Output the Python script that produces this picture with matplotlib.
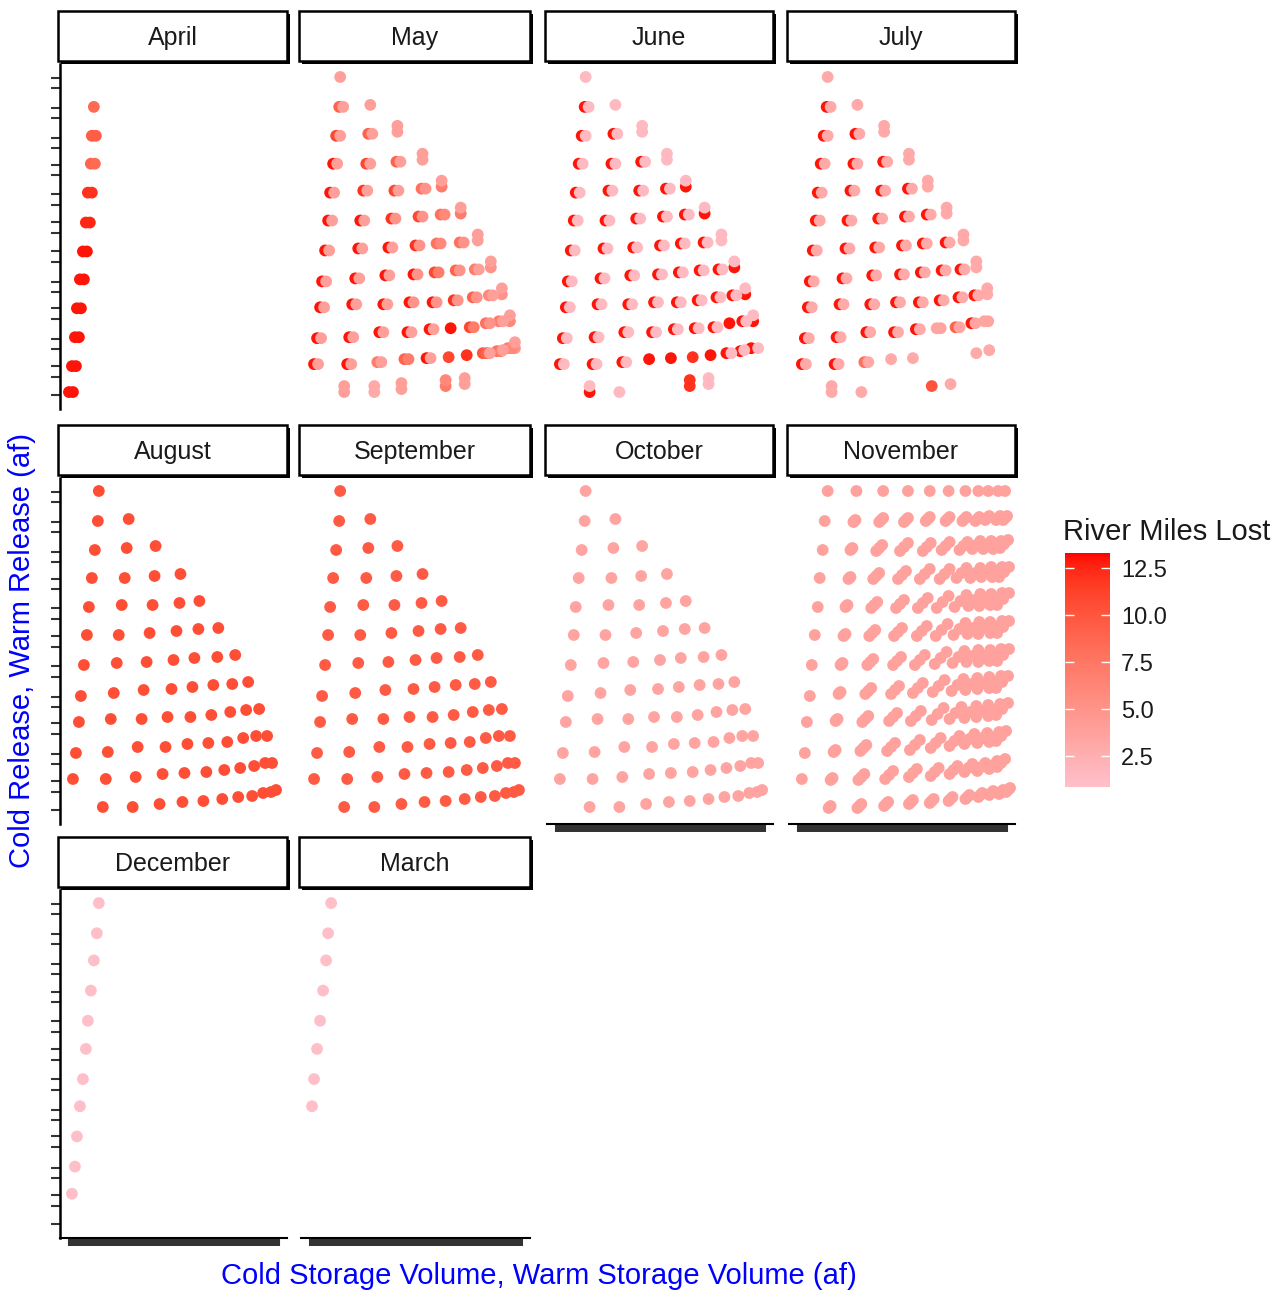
import numpy as np
import matplotlib
matplotlib.use('Agg')
import matplotlib.pyplot as plt
from matplotlib.colors import ListedColormap, Normalize, to_rgb
from matplotlib.patches import Rectangle
from matplotlib.cm import ScalarMappable

plt.rcParams['font.family'] = ['Liberation Sans', 'DejaVu Sans']

W, H = 1274, 1290

# ---------------- data ----------------
months = ['April', 'May', 'June', 'July', 'August', 'September',
          'October', 'November', 'December', 'March']

# storage (x) / release (y) combinations shared by most months
grid_x = [
    [39],
    [38, 69],
    [35, 67, 96],
    [32, 65, 95, 121],
    [29, 62, 93, 120, 140],
    [27, 59, 90, 117, 139, 159],
    [24, 57, 87, 114, 135, 158, 176],
    [21, 54, 84, 112, 133, 154, 173, 189],
    [19, 51, 82, 108, 131, 152, 171, 187, 200],
    [16, 48, 78, 106, 128, 149, 168, 184, 197, 208],
    [13, 46, 76, 103, 125, 147, 165, 181, 195, 206, 213],
    [None, 43, 73, 100, 123, 144, 163, 179, 193, 204, 212, 217],
]
grid_y = [
    [333],
    [303, 305],
    [274, 276, 278],
    [246, 246, 248, 250],
    [217, 219, 219, 221, 223],
    [189, 189, 191, 193, 195, 196],
    [159, 161, 162, 164, 166, 167, 169],
    [128, 131, 134, 135, 137, 139, 140, 142],
    [102, 105, 105, 107, 107, 109, 112, 114, 115],
    [71, 72, 77, 77, 80, 81, 82, 86, 88, 88],
    [45, 45, 47, 50, 51, 52, 54, 56, 58, 61, 61],
    [None, 17, 17, 20, 22, 23, 25, 27, 28, 31, 32, 34],
]

# second scenario of each combination sits a little right (or above at the edge)
B_DX = 4
B_DY = 6

may_a = [
    [4],
    [9, 4],
    [11, 9, 4],
    [13, 11, 9, 4],
    [13, 12, 11, 8, 7],
    [13, 13, 12, 11, 8, 7],
    [13, 13, 13, 12, 8, 8, 4],
    [13, 13, 13, 13, 11, 9, 7, 5],
    [13, 13, 13, 13, 13, 12, 9, 6, 5],
    [13, 13, 13, 13, 13, 13, 11, 8, 7, 6],
    [13, 13, 7, 9, 13, 11, 12, 10, 8, 7, 5],
    [None, 4, 3, 4, None, 7, 4, None, None, None, None, None],
]
may_b = [
    [None],
    [4, None],
    [4, 4, 4],
    [4, 4, 4, 4],
    [4, 4, 4, 5, 4],
    [4, 4, 5, 5, 6, 4],
    [4, 4, 4, 5, 6, 5, 4],
    [4, 4, 4, 5, 7, 5, 4, 4],
    [4, 4, 4, 5, 5, 5, 5, 4, 4],
    [4, 4, 4, 4, 4, None, 7, 5, 4, 4],
    [4, 4, 4, 7, 4, None, None, 9, 7, 6, 4],
    [None, 4, 3, 4, None, 6, 4, None, None, None, None, None],
]
may_extra_x = [188, 201]
may_extra_y = [56, 59]
may_extra_v = [4, 4]

june_a = [
    [1.5],
    [13, 1.5],
    [13, 13, 1.5],
    [13, 13, 13, 1.5],
    [13, 13, 13, 13, 13],
    [13, 13, 13, 13, 13, 13],
    [13, 13, 13, 13, 13, 13, 1.5],
    [13, 13, 13, 13, 13, 13, 13, 13],
    [13, 13, 13, 13, 13, 13, 13, 13, 13],
    [13, 13, 13, 13, 13, 13, 13, 13, 13, 13],
    [13, 13, 13, 13, 13, 12, 13, 13, 13, 13, 1.5],
    [None, 13, 1.5, None, None, 12, 1.5, None, None, None, None, None],
]
june_b = [
    [None],
    [1.5, None],
    [1.5, 1.5, 1.5],
    [1.5, 1.5, 1.5, 1.5],
    [1.5, 1.5, 1.5, 1.5, 1.5],
    [1.5, 1.5, 1.5, 1.5, 1.5, 1.5],
    [1.5, 1.5, 1.5, 1.5, 1.5, 1.5, 1.5],
    [1.5, 1.5, 1.5, 1.5, 1.5, 1.5, 1.5, 1.5],
    [1.5, 1.5, 1.5, 1.5, 1.5, 1.5, 1.5, 1.5, 1.5],
    [1.5, 1.5, 1.5, 1.5, 1.5, 1.5, 1.5, None, 1.5, 1.5],
    [1.5, 1.5, 1.5, None, None, None, None, None, None, None, None],
    [None, 1.5, None, None, None, 12, 1.5, None, None, None, None, None],
]
june_extra_x = [186, 199]
june_extra_y = [56, 59]
june_extra_v = [1.5, 1.5]

july_a = [
    [3],
    [13, 3],
    [13, 13, 3],
    [13, 13, 13, 3],
    [13, 13, 13, 13, 3],
    [13, 13, 13, 13, 13, 3],
    [13, 13, 13, 13, 13, 13, 3],
    [13, 13, 13, 13, 13, 13, 13, 3],
    [13, 13, 13, 13, 13, 13, 13, 13, 3],
    [13, 13, 13, 13, 13, 3.5, 9, 13, 3.5, None],
    [13, 13, 8, 3, 3, None, None, None, None, None, None],
    [None, 3, 3, None, None, 10, 3, None, None, None, None, None],
]
july_b = [
    [None],
    [3, None],
    [3, 3, 3],
    [3, 3, 3, 3],
    [3, 3, 3, 3, 3],
    [3, 3, 3, 3, 3, 3],
    [3, 3, 3, 3, 3, 3, 3],
    [3, 3, 3, 3, 3, 3, 3, 3],
    [3, 3, 3, 3, 3, 3, 3, 3, 3],
    [3, 3, 3, 3, 3, 3.5, 3.5, 3.5, 3.5, None],
    [3, 3, 3, None, None, None, None, None, None, None, None],
    [None, 3, None, None, None, None, None, None, None, None, None, None],
]
july_extra_x = [189, 202]
july_extra_y = [56, 59]
july_extra_v = [3, 3]

aug_value = 10.5
sep_value = 9.6
oct_value = 3.5
nov_value = 3.8
dec_value = 1.0
mar_value = 1.0

apr_x = [34, 32, 31, 28, 26, 23, 20, 17, 15, 12, 9]
apr_y = [303, 274, 246, 217, 187, 158, 130, 101, 72, 43, 17]
apr_v = [8.5, 9.5, 9, 12, 12.5, 13, 13, 13, 13, 13, 13]
apr_v2 = [None, 9.5, 8.5, 12, 12.5, 13, 13, 13, 13, 13, 13]

nov_x = [
    [39, 68, 95, 120, 142, 161, 178, 191, 201, 211, 218],
    [36, 66, 93, 118, 140, 160, 177, 190, 200, 211, 218],
    [34, 63, 91, 116, 139, 158, 176, 189, 200, 210, 217],
    [31, 61, 88, 114, 137, 157, 174, 188, 199, 210, 217],
    [29, 58, 86, 112, 135, 155, 173, 187, 198, 209, 216],
    [26, 56, 84, 110, 134, 154, 172, 186, 197, 209, 216],
    [23, 53, 82, 109, 132, 153, 171, 185, 197, 208, 216],
    [21, 51, 80, 107, 130, 151, 170, 184, 196, 208, 215],
    [18, 48, 77, 105, 128, 150, 168, 183, 195, 207, 215],
    [16, 46, 75, 103, 127, 148, 167, 182, 195, 207, 214],
    [13, 43, 73, 101, 125, 147, 166, 181, 194, 206, 214],
    [None, 41, 71, 98, 123, 144, 163, 180, 193, 204, 214, 221],
]
nov_y = [
    [333, 333, 333, 333, 333, 333, 333, 333, 333, 333, 333],
    [303, 303, 304, 304, 305, 305, 305, 305, 306, 306, 306],
    [274, 275, 276, 277, 277, 278, 278, 279, 279, 279, 280],
    [246, 246, 248, 249, 250, 250, 251, 251, 252, 252, 252],
    [217, 218, 219, 220, 221, 222, 223, 224, 224, 225, 225],
    [189, 189, 191, 192, 193, 194, 195, 196, 196, 197, 197],
    [159, 160, 162, 163, 164, 166, 167, 168, 168, 169, 169],
    [128, 131, 133, 134, 136, 138, 139, 140, 141, 142, 142],
    [102, 104, 105, 107, 108, 110, 111, 112, 113, 114, 115],
    [71, 73, 76, 77, 79, 81, 83, 85, 86, 87, 88],
    [45, 45, 47, 49, 51, 52, 54, 56, 57, 59, 61],
    [None, 17, 18, 20, 22, 23, 25, 27, 29, 31, 32, 34],
]
# spread of release inside each November combination (by column / by row)
nov_spread_col = [0, 1, 3, 4, 5, 6, 6, 6, 6, 6, 6, 6]
nov_spread_row = [0, 2, 4, 5, 6, 6, 6, 6, 6, 5, 4, 2]

dec_x = [39, 37, 34, 31, 28, 26, 23, 20, 17, 15, 12]
dec_y = [333, 303, 276, 246, 216, 188, 158, 131, 101, 71, 44]
mar_x = [30, 27, 25, 22, 19, 16, 13, 11]
mar_y = [333, 303, 276, 246, 216, 188, 158, 131]

y_breaks = [332, 322, 302, 292, 272, 262, 245, 235, 216, 205, 188, 177,
            158, 147, 127, 117, 101, 90, 70, 60, 43, 32, 14]
x_breaks = np.arange(9, 221)

legend_ticks = [2.5, 5.0, 7.5, 10.0, 12.5]
v_min, v_max = 0.86, 13.3


# ---------------- colour scale (pink -> red, interpolated in Lab) ----------------
def to_lab(col):
    rgb = np.array(to_rgb(col))
    lin = np.where(rgb <= 0.04045, rgb / 12.92, ((rgb + 0.055) / 1.055) ** 2.4)
    m = np.array([[0.4124, 0.3576, 0.1805], [0.2126, 0.7152, 0.0722], [0.0193, 0.1192, 0.9505]])
    xyz = m @ lin / np.array([0.95047, 1.0, 1.08883])
    f = np.where(xyz > 0.008856, np.cbrt(xyz), 7.787 * xyz + 16 / 116)
    return np.array([116 * f[1] - 16, 500 * (f[0] - f[1]), 200 * (f[1] - f[2])])


def from_lab(lab):
    fy = (lab[0] + 16) / 116
    f = np.array([fy + lab[1] / 500, fy, fy - lab[2] / 200])
    xyz = np.where(f ** 3 > 0.008856, f ** 3, (f - 16 / 116) / 7.787) * np.array([0.95047, 1.0, 1.08883])
    m = np.array([[3.2406, -1.5372, -0.4986], [-0.9689, 1.8758, 0.0415], [0.0557, -0.2040, 1.0570]])
    lin = np.clip(m @ xyz, 0, 1)
    rgb = np.where(lin <= 0.0031308, 12.92 * lin, 1.055 * lin ** (1 / 2.4) - 0.055)
    return np.clip(rgb, 0, 1)


lo, hi = to_lab('pink'), to_lab('red')
cmap = ListedColormap([from_lab(lo + t * (hi - lo)) for t in np.linspace(0, 1, 256)])
norm = Normalize(v_min, v_max)


# ---------------- helpers ----------------
def uniform(value):
    return [[None if x is None else value for x in row] for row in grid_x]


def grid_points(vals, second=False):
    xs, ys, vs = [], [], []
    for r, row in enumerate(vals):
        last = len(grid_x[r]) - 1
        for c, v in enumerate(row):
            if v is None or grid_x[r][c] is None:
                continue
            x, y = grid_x[r][c], grid_y[r][c]
            if second:
                if c == last or r == len(vals) - 1:
                    y += B_DY
                else:
                    x += B_DX
            xs.append(x)
            ys.append(y)
            vs.append(v)
    return xs, ys, vs


PT = 72


def dots(ax, xs, ys, vs):
    ax.scatter(xs, ys, c=vs, cmap=cmap, norm=norm, s=PT, linewidths=0, clip_on=False)


def px_rect(x0, y0, x1, y1):
    return [x0 / W, 1 - y1 / H, (x1 - x0) / W, (y1 - y0) / H]


col_px = [(60, 287), (301, 530), (547, 773), (789, 1015)]
row_px = [(64, 409), (478, 824), (890, 1238)]
bottom_panels = {'October', 'November', 'December', 'March'}

fig = plt.figure(figsize=(W / 100, H / 100), dpi=100)

for i, month in enumerate(months):
    r, c = divmod(i, 4)
    x0, x1 = col_px[c]
    y0, y1 = row_px[r]
    ax = fig.add_axes(px_rect(x0, y0, x1, y1))
    ax.set_xlim(0, 228)
    ax.set_ylim(0, 346)
    for s in ax.spines.values():
        s.set_visible(False)
    ax.set_facecolor('none')

    if month == 'April':
        dots(ax, apr_x, apr_y, apr_v)
        pairs = [(x + B_DX, y, v) for x, y, v in zip(apr_x, apr_y, apr_v2) if v is not None]
        dots(ax, [p[0] for p in pairs], [p[1] for p in pairs], [p[2] for p in pairs])
    elif month in ('May', 'June', 'July'):
        a, b, ex, ey, ev = {
            'May': (may_a, may_b, may_extra_x, may_extra_y, may_extra_v),
            'June': (june_a, june_b, june_extra_x, june_extra_y, june_extra_v),
            'July': (july_a, july_b, july_extra_x, july_extra_y, july_extra_v),
        }[month]
        dots(ax, *grid_points(a))
        dots(ax, *grid_points(b, second=True))
        dots(ax, ex, ey, ev)
    elif month in ('August', 'September', 'October'):
        val = {'August': aug_value, 'September': sep_value, 'October': oct_value}[month]
        dots(ax, *grid_points(uniform(val)))
    elif month == 'November':
        xs, ys = [], []
        for rr, (rx, ry) in enumerate(zip(nov_x, nov_y)):
            for cc, (x, y) in enumerate(zip(rx, ry)):
                if x is None:
                    continue
                d = min(nov_spread_col[cc], nov_spread_row[rr])
                for k in ((-d, 0, d) if d else (0,)):
                    xs.append(x + k)
                    ys.append(y + k)
        dots(ax, xs, ys, [nov_value] * len(xs))
    elif month == 'December':
        dots(ax, dec_x, dec_y, [dec_value] * len(dec_x))
    elif month == 'March':
        dots(ax, mar_x, mar_y, [mar_value] * len(mar_x))

    # axes
    if c == 0:
        ax.spines['left'].set_visible(True)
        ax.spines['left'].set_linewidth(1.8)
        ax.spines['left'].set_color('black')
        ax.set_yticks(y_breaks)
        ax.tick_params(axis='y', length=6.5, width=1.5, color='#333333', labelleft=False)
    else:
        ax.set_yticks([])
    if month in bottom_panels:
        ax.spines['bottom'].set_visible(True)
        ax.spines['bottom'].set_linewidth(1.5)
        ax.spines['bottom'].set_color('black')
        ax.set_xticks(x_breaks)
        ax.tick_params(axis='x', length=6, width=1.5, color='#333333', labelbottom=False)
    else:
        ax.set_xticks([])

    # strip
    sx0, sx1 = x0 - 2, x1
    sy0, sy1 = y0 - 53, y0 - 3
    fig.add_artist(Rectangle((sx0 / W + 3 / W, 1 - (sy1 + 3) / H), (sx1 - sx0) / W, (sy1 - sy0) / H,
                             transform=fig.transFigure, facecolor='black', edgecolor='none'))
    fig.add_artist(Rectangle((sx0 / W, 1 - sy1 / H), (sx1 - sx0) / W, (sy1 - sy0) / H,
                             transform=fig.transFigure, facecolor='white', edgecolor='black', linewidth=1.8))
    fig.text((sx0 + sx1) / 2 / W, 1 - ((sy0 + sy1) / 2 + 2) / H, month, ha='center', va='center',
             fontsize=18, color='#1A1A1A')

# axis titles
fig.text(22 / W, 1 - 651 / H, 'Cold Release, Warm Release (af)', rotation=90, ha='center', va='center',
         fontsize=21, color='blue')
fig.text(539 / W, 1 - 1276 / H, 'Cold Storage Volume, Warm Storage Volume (af)', ha='center', va='center',
         fontsize=21, color='blue')

# legend
fig.text(1063 / W, 1 - 532 / H, 'River Miles Lost', ha='left', va='center', fontsize=21, color='#1A1A1A')
cax = fig.add_axes(px_rect(1065, 553, 1110, 787))
cb = fig.colorbar(ScalarMappable(norm=norm, cmap=cmap), cax=cax)
cb.outline.set_visible(False)
cb.set_ticks(legend_ticks)
cb.set_ticklabels([f'{t:.1f}' for t in legend_ticks])
cax.yaxis.set_ticks_position('both')
cax.tick_params(direction='in', length=6.5, width=1, color='white', labelsize=17, labelcolor='#1A1A1A',
                pad=8, labelright=True, labelleft=False)

fig.savefig('out.png', dpi=100)
